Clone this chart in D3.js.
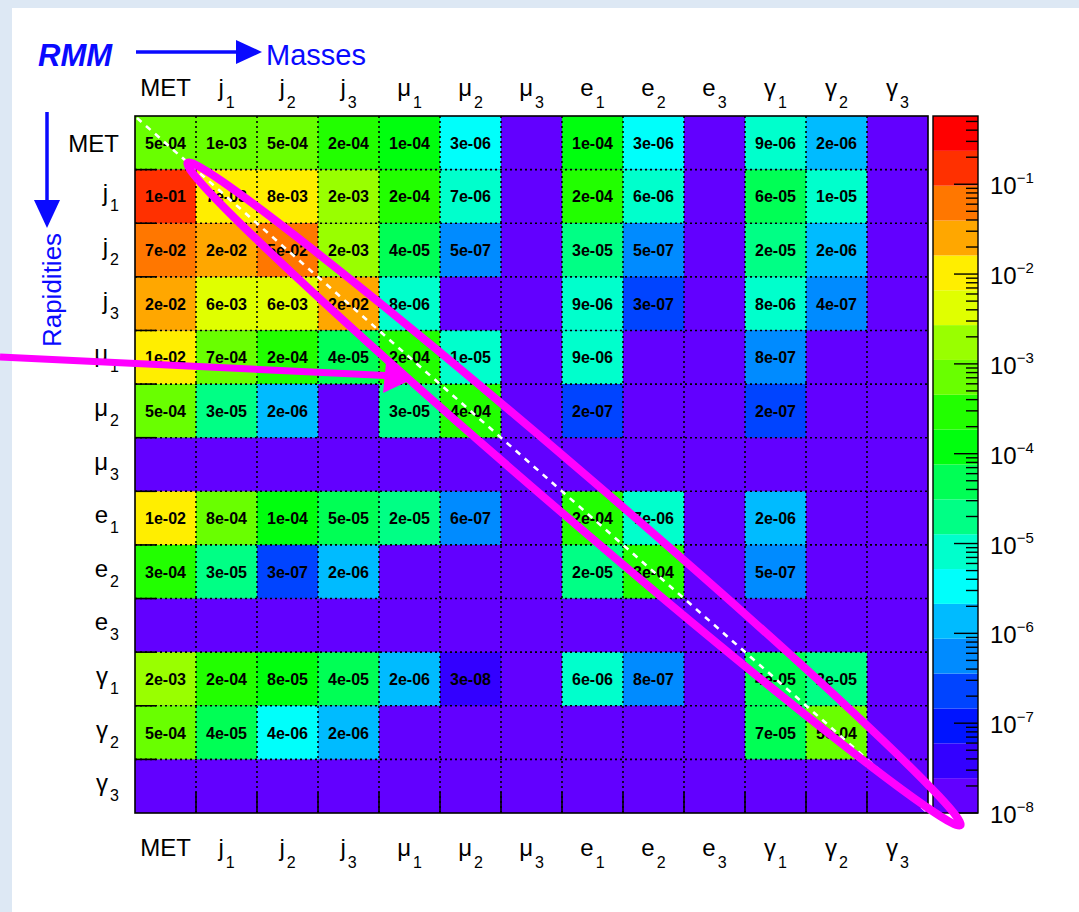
<!DOCTYPE html>
<html>
<head>
<meta charset="utf-8">
<script src="https://cdn.jsdelivr.net/npm/d3@7/dist/d3.min.js"></script>
<style>
  html, body { margin: 0; padding: 0; background: #dde8f4; }
  svg { display: block; }
</style>
</head>
<body>
<svg id="chart" width="1079" height="912"></svg>
<script>
// Object labels of the rapidity-mass matrix (columns = masses, rows = rapidities)
const categories = ["MET", "j1", "j2", "j3", "μ1", "μ2", "μ3", "e1", "e2", "e3", "γ1", "γ2", "γ3"];

// Cell values per row (0 = empty cell)
const rowMET = [5e-4, 1e-3, 5e-4, 2e-4, 1e-4, 3e-6, 0, 1e-4, 3e-6, 0, 9e-6, 2e-6, 0];
const rowJ1  = [1e-1, 7e-3, 8e-3, 2e-3, 2e-4, 7e-6, 0, 2e-4, 6e-6, 0, 6e-5, 1e-5, 0];
const rowJ2  = [7e-2, 2e-2, 5e-2, 2e-3, 4e-5, 5e-7, 0, 3e-5, 5e-7, 0, 2e-5, 2e-6, 0];
const rowJ3  = [2e-2, 6e-3, 6e-3, 2e-2, 8e-6, 0, 0, 9e-6, 3e-7, 0, 8e-6, 4e-7, 0];
const rowMu1 = [1e-2, 7e-4, 2e-4, 4e-5, 2e-4, 1e-5, 0, 9e-6, 0, 0, 8e-7, 0, 0];
const rowMu2 = [5e-4, 3e-5, 2e-6, 0, 3e-5, 4e-4, 0, 2e-7, 0, 0, 2e-7, 0, 0];
const rowMu3 = [0, 0, 0, 0, 0, 0, 0, 0, 0, 0, 0, 0, 0];
const rowE1  = [1e-2, 8e-4, 1e-4, 5e-5, 2e-5, 6e-7, 0, 2e-4, 7e-6, 0, 2e-6, 0, 0];
const rowE2  = [3e-4, 3e-5, 3e-7, 2e-6, 0, 0, 0, 2e-5, 3e-4, 0, 5e-7, 0, 0];
const rowE3  = [0, 0, 0, 0, 0, 0, 0, 0, 0, 0, 0, 0, 0];
const rowG1  = [2e-3, 2e-4, 8e-5, 4e-5, 2e-6, 3e-8, 0, 6e-6, 8e-7, 0, 4e-5, 2e-5, 0];
const rowG2  = [5e-4, 4e-5, 4e-6, 2e-6, 0, 0, 0, 0, 0, 0, 7e-5, 5e-4, 0];
const rowG3  = [0, 0, 0, 0, 0, 0, 0, 0, 0, 0, 0, 0, 0];
const matrix = [rowMET, rowJ1, rowJ2, rowJ3, rowMu1, rowMu2, rowMu3, rowE1, rowE2, rowE3, rowG1, rowG2, rowG3];

// Colour-axis range and tick labels
const zMin = 1e-8;
const zMax = 0.575;
const zTickExponents = [-1, -2, -3, -4, -5, -6, -7, -8];

// 20-level rainbow palette (violet -> red)
const palette = ["#6200ff", "#3300ff", "#0014ff", "#0044ff", "#008bff", "#00bbff", "#00fffb",
                 "#00ffcc", "#00ff85", "#00ff55", "#00ff0e", "#22ff00", "#69ff00", "#99ff00",
                 "#e0ff00", "#ffee00", "#ffa700", "#ff7700", "#ff3000", "#ff0000"];

const svg = d3.select("#chart");
const W = 1079, H = 912;
const frame = { left: 135, right: 928, top: 116, bottom: 813 };
const bar = { left: 933, right: 978 };
const BLUE = "#0a0aff";
const FONT = "'Liberation Sans', Arial, Helvetica, sans-serif";

// white canvas inside the light border
svg.append("rect").attr("x", 12).attr("y", 8).attr("width", W - 12).attr("height", H - 8).attr("fill", "#ffffff");

const x = d3.scaleBand().domain(categories).range([frame.left, frame.right]);
const y = d3.scaleBand().domain(categories).range([frame.top, frame.bottom]);
const color = d3.scaleQuantize().domain([Math.log10(zMin), Math.log10(zMax)]).range(palette);

// frame background = lowest colour level
svg.append("rect")
  .attr("x", frame.left).attr("y", frame.top)
  .attr("width", frame.right - frame.left).attr("height", frame.bottom - frame.top)
  .attr("fill", palette[0]);

const cells = [];
matrix.forEach((row, i) => row.forEach((v, j) => {
  if (v > 0) cells.push({ r: categories[i], c: categories[j], v });
}));

svg.append("g").selectAll("rect").data(cells).join("rect")
  .attr("x", d => x(d.c)).attr("y", d => y(d.r))
  .attr("width", x.bandwidth()).attr("height", y.bandwidth())
  .attr("fill", d => color(Math.log10(d.v)));

// dotted grid
const grid = svg.append("g").attr("stroke", "#000").attr("stroke-width", 1.6).attr("stroke-dasharray", "2,3");
categories.slice(1).forEach(c => {
  grid.append("line").attr("x1", x(c)).attr("x2", x(c)).attr("y1", frame.top).attr("y2", frame.bottom);
  grid.append("line").attr("y1", y(c)).attr("y2", y(c)).attr("x1", frame.left).attr("x2", frame.right);
});

// axis ticks at cell boundaries
const ticks = svg.append("g").attr("stroke", "#000").attr("stroke-width", 1.6);
categories.slice(1).forEach(c => {
  ticks.append("line").attr("x1", x(c)).attr("x2", x(c)).attr("y1", frame.bottom).attr("y2", frame.bottom - 21);
  ticks.append("line").attr("y1", y(c)).attr("y2", y(c)).attr("x1", frame.left).attr("x2", frame.left + 21);
});

// cell value labels
function fmt(v) {
  const parts = v.toExponential(0).split("e");
  const e = +parts[1];
  return parts[0] + "e" + (e < 0 ? "-" : "+") + String(Math.abs(e)).padStart(2, "0");
}
svg.append("g").selectAll("text").data(cells).join("text")
  .attr("x", d => x(d.c) + x.bandwidth() / 2)
  .attr("y", d => y(d.r) + y.bandwidth() / 2 + 6)
  .attr("text-anchor", "middle")
  .attr("font-family", FONT).attr("font-weight", "bold").attr("font-size", 16)
  .attr("fill", "#000")
  .text(d => fmt(d.v));

// frame border
svg.append("rect")
  .attr("x", frame.left).attr("y", frame.top)
  .attr("width", frame.right - frame.left).attr("height", frame.bottom - frame.top)
  .attr("fill", "none").attr("stroke", "#000").attr("stroke-width", 1.6);

// diagonal guide
svg.append("line")
  .attr("x1", frame.left + 2).attr("y1", frame.top + 2)
  .attr("x2", frame.right - 2).attr("y2", frame.bottom - 2)
  .attr("stroke", "#fff").attr("stroke-width", 2.6).attr("stroke-dasharray", "6,6");

// axis labels with subscripts
function addLabel(g, name, px, py, anchor, subDy) {
  const base = name.replace(/\d$/, "");
  const sub = name.length > base.length ? name.slice(-1) : null;
  const t = g.append("text").attr("x", px).attr("y", py).attr("text-anchor", anchor)
    .attr("font-family", FONT).attr("font-size", 24).attr("fill", "#000");
  t.append("tspan").text(base);
  if (sub) t.append("tspan").attr("dx", 2).attr("dy", subDy).attr("font-size", 16).text(sub);
}
const labels = svg.append("g");
categories.forEach(c => {
  const cx = x(c) + x.bandwidth() / 2;
  addLabel(labels, c, cx, 96, "middle", 12);
  addLabel(labels, c, cx, 856, "middle", 12);
  const cy = y(c) + y.bandwidth() / 2;
  addLabel(labels, c, 119, c === "MET" ? cy + 9 : cy + 5, "end", 10);
});

// colour bar
const z = d3.scaleLog().domain([zMin, zMax]).range([frame.bottom, frame.top]);
const lo = Math.log10(zMin), hi = Math.log10(zMax), step = (hi - lo) / palette.length;
svg.append("g").selectAll("rect").data(palette).join("rect")
  .attr("x", bar.left).attr("width", bar.right - bar.left)
  .attr("y", (d, k) => z(Math.pow(10, lo + (k + 1) * step)))
  .attr("height", (d, k) => z(Math.pow(10, lo + k * step)) - z(Math.pow(10, lo + (k + 1) * step)))
  .attr("fill", d => d);

const minor = [];
for (let e = -8; e <= 0; e++) for (let m = 2; m <= 9; m++) {
  const v = m * Math.pow(10, e);
  if (v < zMax) minor.push(v);
}
const cbTicks = svg.append("g").attr("stroke", "#000").attr("stroke-width", 1.4);
zTickExponents.forEach(e => {
  const yy = z(Math.pow(10, e));
  cbTicks.append("line").attr("x1", bar.right).attr("x2", bar.right - 24).attr("y1", yy).attr("y2", yy);
});
minor.forEach(v => {
  const yy = z(v);
  cbTicks.append("line").attr("x1", bar.right).attr("x2", bar.right - 12).attr("y1", yy).attr("y2", yy);
});
svg.append("rect")
  .attr("x", bar.left).attr("y", frame.top)
  .attr("width", bar.right - bar.left).attr("height", frame.bottom - frame.top)
  .attr("fill", "none").attr("stroke", "#000").attr("stroke-width", 1.4);

const zl = svg.append("g");
zTickExponents.forEach(e => {
  const t = zl.append("text").attr("x", 990).attr("y", z(Math.pow(10, e)) + 10)
    .attr("font-family", FONT).attr("font-size", 24).attr("fill", "#000");
  t.append("tspan").text("10");
  t.append("tspan").attr("dy", -11).attr("font-size", 15).text("\u2212" + Math.abs(e));
});

// headings with arrows
svg.append("text").attr("x", 38).attr("y", 66)
  .attr("font-family", FONT).attr("font-weight", "bold").attr("font-style", "italic")
  .attr("font-size", 31).attr("fill", BLUE).text("RMM");
svg.append("line").attr("x1", 136).attr("x2", 240).attr("y1", 52).attr("y2", 52)
  .attr("stroke", BLUE).attr("stroke-width", 3.5);
svg.append("path").attr("d", "M236,40 L262,52 L236,64 Z").attr("fill", BLUE);
svg.append("text").attr("x", 266).attr("y", 65)
  .attr("font-family", FONT).attr("font-size", 29).attr("fill", BLUE).text("Masses");

svg.append("line").attr("x1", 47).attr("x2", 47).attr("y1", 112).attr("y2", 204)
  .attr("stroke", BLUE).attr("stroke-width", 3.5);
svg.append("path").attr("d", "M34,200 L60,200 L47,228 Z").attr("fill", BLUE);
svg.append("text").attr("transform", "translate(61,290) rotate(-90)")
  .attr("text-anchor", "middle")
  .attr("font-family", FONT).attr("font-size", 26).attr("fill", BLUE).text("Rapidities");

// magenta highlight of the diagonal and pointer
const MAG = "#ff00ff";
svg.append("ellipse")
  .attr("transform", "translate(574,494) rotate(40.6)")
  .attr("rx", 509).attr("ry", 22)
  .attr("fill", "none").attr("stroke", MAG).attr("stroke-width", 8);
svg.append("line").attr("x1", 0).attr("y1", 357).attr("x2", 396).attr("y2", 376)
  .attr("stroke", MAG).attr("stroke-width", 7);
svg.append("path").attr("d", "M413,379 L386,363 L383,393 Z").attr("fill", MAG);
</script>
</body>
</html>
